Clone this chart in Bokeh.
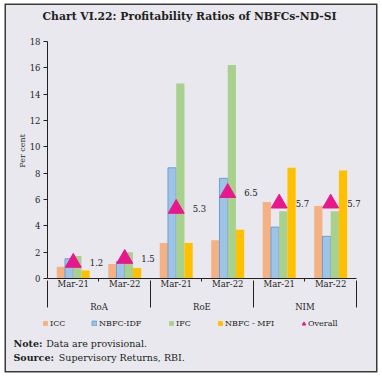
from bokeh.plotting import figure
from bokeh.layouts import column
from bokeh.models import (ColumnDataSource, FixedTicker, LinearAxis, Range1d,
                          Legend, LegendItem, Label)
from bokeh.core.properties import value
from bokeh.transform import dodge
from bokeh.embed import file_html
from bokeh.resources import INLINE

# ---------------- data ----------------
groups = ["RoA", "RoE", "NIM"]
years = ["Mar-21", "Mar-22"]
series_names = ["ICC", "NBFC-IDF", "IFC", "NBFC - MFI"]
icc = [0.9, 1.1, 2.7, 2.9, 5.8, 5.5]
nbfc_idf = [1.5, 1.3, 8.4, 7.6, 3.9, 3.2]
ifc = [1.7, 2.0, 14.8, 16.2, 5.1, 5.1]
nbfc_mfi = [0.6, 0.8, 2.7, 3.7, 8.4, 8.2]
overall = [1.2, 1.5, 5.3, 6.5, 5.7, 5.7]
y_ticks = [0, 2, 4, 6, 8, 10, 12, 14, 16, 18]

# ---------------- style ----------------
BG = "#E9E8EF"
TXT = "#231F20"
AX = "#222222"
FONT = "DejaVu Serif"
colors = ["#F4B183", "#9DC3E6", "#A9D18E", "#FFC000"]
edge = [None, "#6E9FD6", None, None]
TRI = "#E8188C"
BAR_W = 0.16
offsets = [-0.24, -0.08, 0.08, 0.24]
W = 370
PH = 309
FH = 57

n_cat = len(groups) * len(years)
xc = [i + 0.5 for i in range(n_cat)]
year_labels = [years[i % len(years)] for i in range(n_cat)]

p = figure(width=W, height=PH, output_backend="svg", toolbar_location=None,
           x_range=Range1d(0, 6.39), y_range=Range1d(0, 19.35),
           x_axis_location=None, y_axis_location=None,
           min_border_left=41, min_border_right=0, min_border_top=18,
           min_border_bottom=34)
p.frame_align = False
p.background_fill_color = BG
p.border_fill_color = BG
p.outline_line_color = None
p.grid.visible = False

# title
p.title.text = "Chart VI.22: Profitability Ratios of NBFCs-ND-SI"
p.title.text_font = FONT
p.title.text_font_size = "10.8px"
p.title.text_font_style = "bold"
p.title.text_color = TXT
p.title.align = "left"
p.title.offset = -5
p.title.standoff = 0
p.title.vertical_align = "middle"

# y axis
yax = LinearAxis(ticker=FixedTicker(ticks=y_ticks), bounds=(0, 18))
yax.axis_label = "Per cent"
yax.axis_label_text_font = FONT
yax.axis_label_text_font_size = "8px"
yax.axis_label_text_font_style = "normal"
yax.axis_label_text_color = TXT
yax.axis_label_standoff = 0
yax.major_label_text_font = FONT
yax.major_label_text_font_size = "8.5px"
yax.major_label_text_color = TXT
yax.major_label_standoff = 3
yax.major_tick_in = 0
yax.major_tick_out = 4
yax.minor_tick_line_color = None
yax.axis_line_color = AX
yax.major_tick_line_color = AX
p.add_layout(yax, "left")

# x axis level 1 (years)
xa = LinearAxis(ticker=FixedTicker(ticks=xc, minor_ticks=[1, 3, 5]), bounds=(0, n_cat))
xa.major_label_overrides = {xc[i]: year_labels[i] for i in range(n_cat)}
xa.major_tick_in = 0
xa.major_tick_out = 0
xa.minor_tick_in = 0
xa.minor_tick_out = 3
xa.minor_tick_line_color = AX
xa.axis_line_color = AX
xa.major_label_text_font = FONT
xa.major_label_text_font_size = "8.5px"
xa.major_label_text_color = TXT
xa.major_label_standoff = -3
p.add_layout(xa, "below")

# x axis level 2 (groups)
gx = [1, 3, 5]
xb = LinearAxis(ticker=FixedTicker(ticks=gx, minor_ticks=[0, 2, 4, 6]), bounds=(0, n_cat))
xb.major_label_overrides = {gx[i]: groups[i] for i in range(len(groups))}
xb.major_tick_in = 0
xb.major_tick_out = 0
xb.minor_tick_in = 11
xb.minor_tick_out = 16
xb.minor_tick_line_color = AX
xb.axis_line_color = None
xb.major_label_text_font = FONT
xb.major_label_text_font_size = "8.5px"
xb.major_label_text_color = TXT
xb.major_label_standoff = -6
p.add_layout(xb, "below")

# bars
src = ColumnDataSource(dict(x=xc, icc=icc, idf=nbfc_idf, ifc=ifc, mfi=nbfc_mfi,
                            overall=overall,
                            lab=["%.1f" % v for v in overall]))
cols = ["icc", "idf", "ifc", "mfi"]
for k, c in enumerate(cols):
    p.vbar(x=dodge("x", offsets[k], range=p.x_range), top=c, width=BAR_W,
           bottom=0, source=src, fill_color=colors[k],
           line_color=edge[k], line_width=1 if edge[k] else 0)

p.scatter(x="x", y="overall", source=src, marker="triangle", size=16,
          fill_color=TRI, line_color=TRI)
p.text(x="x", y="overall", text="lab", source=src, x_offset=16.5,
       text_baseline="middle", text_align="left", text_font=value(FONT),
       text_font_size="8.5px", text_color=TXT)

# ---------------- footer: legend + notes ----------------
f = figure(width=W, height=FH, output_backend="svg", toolbar_location=None,
           x_range=Range1d(0, W), y_range=Range1d(0, FH),
           x_axis_location=None, y_axis_location=None,
           min_border_left=0, min_border_right=0, min_border_top=0,
           min_border_bottom=0)
f.frame_align = False
f.background_fill_color = BG
f.border_fill_color = BG
f.outline_line_color = None
f.grid.visible = False

leg_r = []
for k, c in enumerate(cols):
    leg_r.append(f.vbar(x="x", top=c, width=BAR_W, source=src, visible=False,
                        fill_color=colors[k], line_color=edge[k],
                        line_width=1 if edge[k] else 0))
leg_r.append(f.scatter(x="x", y="overall", source=src, marker="triangle", size=8,
                       visible=False, fill_color=TRI, line_color=TRI))
leg_names = series_names + ["Overall"]
leg_x = [36, 85, 162, 211, 293]
leg_g = [6, 6, 6, 6, 9]
leg_sd = [2, 2, 2, 2, -1]
for k in range(5):
    lg = Legend(items=[LegendItem(label=leg_names[k], renderers=[leg_r[k]])],
                orientation="horizontal", location=(leg_x[k], 43),
                glyph_width=leg_g[k], glyph_height=leg_g[k],
                label_standoff=leg_sd[k], spacing=0,
                padding=0, margin=0, border_line_color=None,
                background_fill_alpha=0, inactive_fill_alpha=0,
                label_text_font=FONT,
                label_text_font_size="8px", label_text_color=TXT, label_height=10)
    f.add_layout(lg, "center")


def note(x, y, t, bold):
    f.add_layout(Label(x=x, y=y, x_units="screen", y_units="screen", text=t,
                       text_font=FONT, text_font_size="9.5px",
                       text_font_style="bold" if bold else "normal",
                       text_color=TXT, text_baseline="middle"))


note(7, 28, "Note:", True)
note(39.7, 28, "Data are provisional.", False)
note(7, 14, "Source:", True)
note(52.3, 14, "Supervisory Returns, RBI.", False)

layout = column(p, f, spacing=0)
layout.styles = {"margin": "5px 0 0 6px",
                 "box-shadow": "0 0 0 1.5px #3a3a3a",
                 "background-color": BG}

open("out.html", "w").write(file_html(layout, INLINE))
